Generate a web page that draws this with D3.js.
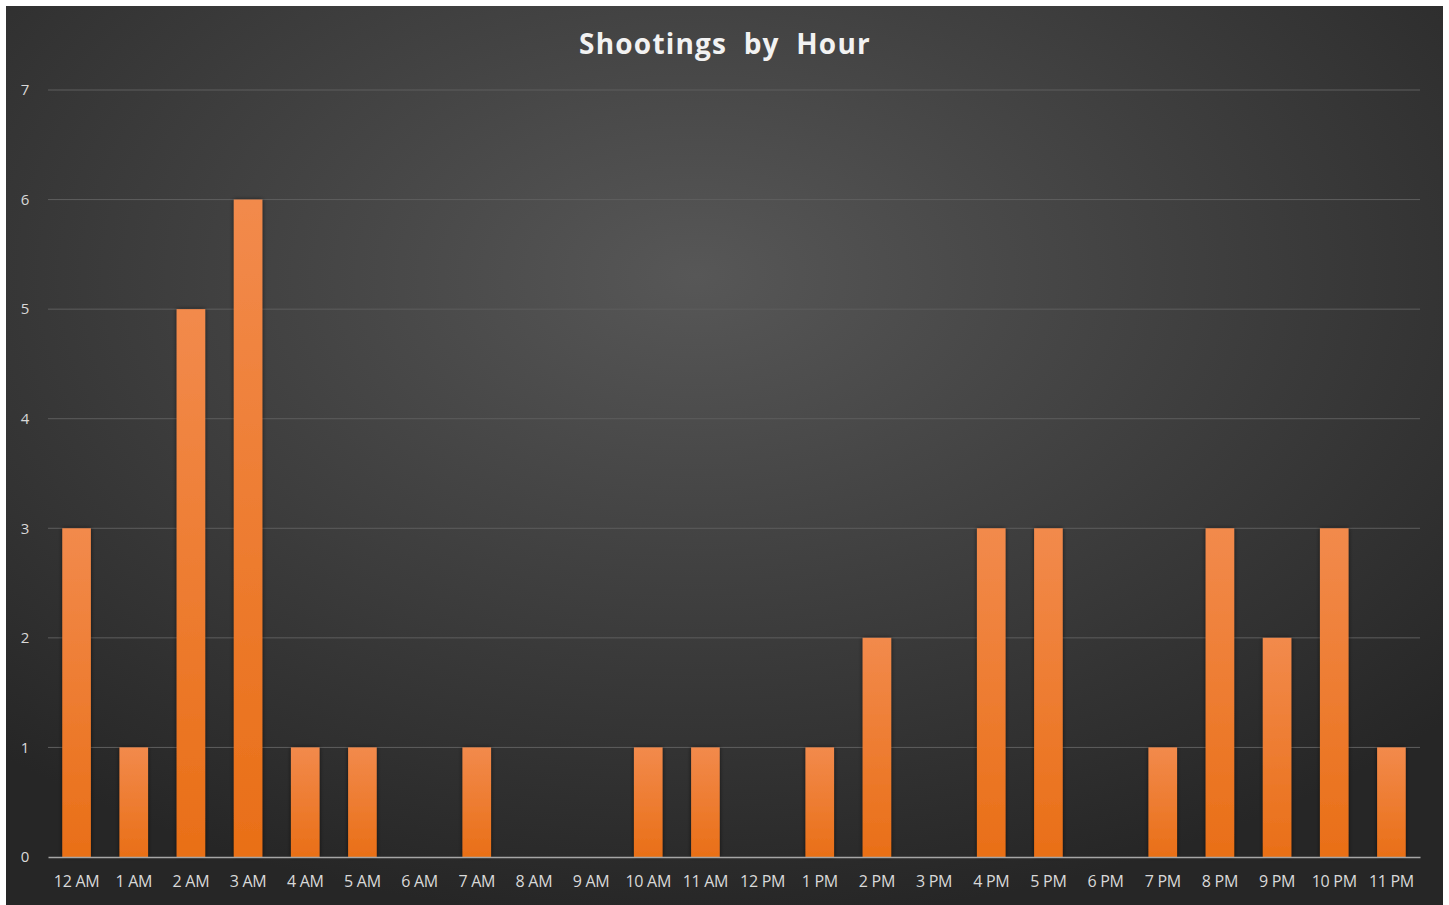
<!DOCTYPE html>
<meta charset="utf-8">
<script src="https://cdn.jsdelivr.net/npm/d3@7"></script>
<style>
  body { margin: 0; background: #fff; }
  .tick text { fill: #d9d9d9; font-family: "Open Sans", "Noto Sans", sans-serif; }
</style>
<body>
<div id="chart"></div>
<script>
  // data
  var hours = ["12 AM","1 AM","2 AM","3 AM","4 AM","5 AM","6 AM","7 AM","8 AM","9 AM","10 AM","11 AM",
               "12 PM","1 PM","2 PM","3 PM","4 PM","5 PM","6 PM","7 PM","8 PM","9 PM","10 PM","11 PM"];
  var shootings = [3,1,5,6,1,1,0,1,0,0,1,1,0,1,2,0,3,3,0,1,3,2,3,1];
  var yTicks = [0,1,2,3,4,5,6,7];

  var width = 1449, height = 905;
  var margin = {top: 90, right: 29, bottom: 48, left: 48};

  var svg = d3.select("#chart").append("svg")
      .attr("width", width)
      .attr("height", height);

  var defs = svg.append("defs");
  var bg = defs.append("radialGradient").attr("id", "bg")
      .attr("cx", "48%").attr("cy", "30%").attr("r", "72%");
  bg.append("stop").attr("offset", "0%").attr("stop-color", "#575757");
  bg.append("stop").attr("offset", "100%").attr("stop-color", "#262626");

  var barGrad = defs.append("linearGradient").attr("id", "barGrad")
      .attr("x1", 0).attr("y1", 0).attr("x2", 0).attr("y2", 1);
  barGrad.append("stop").attr("offset", "0%").attr("stop-color", "#f28a4c");
  barGrad.append("stop").attr("offset", "100%").attr("stop-color", "#e96f17");

  var shadow = defs.append("filter").attr("id", "shadow")
      .attr("x", "-30%").attr("y", "-10%").attr("width", "160%").attr("height", "120%");
  shadow.append("feDropShadow").attr("dx", 0).attr("dy", 0).attr("stdDeviation", 2)
      .attr("flood-color", "#000").attr("flood-opacity", 0.6);

  svg.append("rect")
      .attr("x", 6).attr("y", 6)
      .attr("width", width - 12).attr("height", height - 6)
      .attr("fill", "url(#bg)");

  var x = d3.scaleBand()
      .domain(hours)
      .range([margin.left, width - margin.right])
      .paddingInner(0.5)
      .paddingOuter(0.25);

  var y = d3.scaleLinear()
      .domain([0, 7])
      .range([height - margin.bottom, margin.top]);

  // gridlines
  svg.append("g")
      .selectAll("line")
      .data(yTicks.slice(1))
      .enter().append("line")
      .attr("x1", margin.left).attr("x2", width - margin.right)
      .attr("y1", d => y(d)).attr("y2", d => y(d))
      .attr("stroke", "#5e5e5e").attr("stroke-width", 1);

  // y axis labels
  var yAxis = svg.append("g")
      .attr("transform", "translate(" + margin.left + ",0)")
      .call(d3.axisLeft(y).tickValues(yTicks).tickFormat(d3.format("d")).tickSize(0).tickPadding(16));
  yAxis.select(".domain").remove();
  yAxis.selectAll("text").attr("font-size", 15).attr("text-anchor", "middle").attr("dx", -7);

  // bars
  var rows = hours.map((h, i) => ({hour: h, value: shootings[i]}));
  svg.append("g")
      .selectAll("rect")
      .data(rows.filter(d => d.value > 0))
      .enter().append("rect")
      .attr("x", d => x(d.hour))
      .attr("width", x.bandwidth())
      .attr("y", d => y(d.value))
      .attr("height", d => y(0) - y(d.value))
      .attr("fill", "url(#barGrad)")
      .attr("filter", "url(#shadow)");

  // x axis
  var xAxis = svg.append("g")
      .attr("transform", "translate(0," + y(0) + ")")
      .call(d3.axisBottom(x).tickSize(0).tickPadding(19));
  xAxis.select(".domain").attr("stroke", "#a6a6a6").attr("stroke-width", 1.5);
  xAxis.selectAll("text").attr("font-size", 16).attr("letter-spacing", -0.3);

  // title
  svg.append("text")
      .attr("x", 725).attr("y", 54)
      .attr("text-anchor", "middle")
      .attr("fill", "#f2f2f2")
      .attr("font-family", "'Open Sans', 'Noto Sans', sans-serif")
      .attr("font-weight", "bold")
      .attr("font-size", 28)
      .attr("letter-spacing", 1.2)
      .attr("word-spacing", 8)
      .text("Shootings by Hour");
</script>
</body>
